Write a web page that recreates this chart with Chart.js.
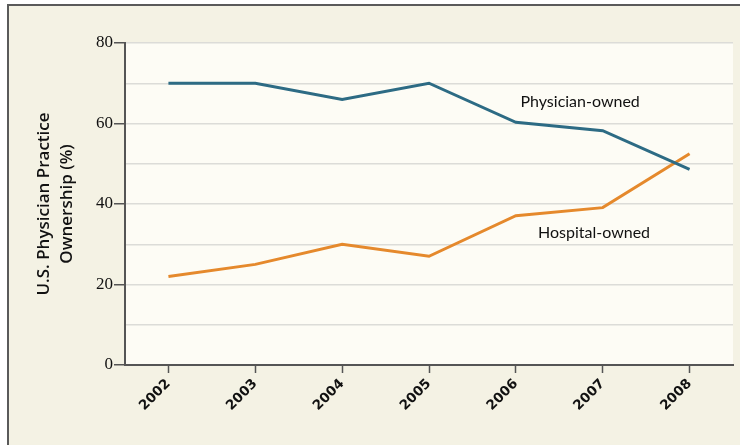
<!DOCTYPE html>
<html>
<head>
<meta charset="utf-8">
<script src="https://cdn.jsdelivr.net/npm/chart.js@4/dist/chart.umd.min.js"></script>
<style>
  html, body { margin: 0; padding: 0; background: #ffffff; }
  #frame {
    position: absolute; left: 7px; top: 4px; width: 760px; height: 460px;
    border-left: 2px solid #5a5a5a; border-top: 2px solid #5a5a5a;
    background: #f4f2e4;
  }
  #wrap { position: absolute; left: 0; top: 0; width: 740px; height: 445px; }
</style>
</head>
<body>
<div id="frame"></div>
<div id="wrap"><canvas id="ownershipChart" width="740" height="445"></canvas></div>
<script>
// Data
const years = ['2002', '2003', '2004', '2005', '2006', '2007', '2008'];
const physicianOwned = [70, 70, 66, 70, 60.3, 58.2, 48.6];
const hospitalOwned = [22, 25, 30, 27, 37.1, 39.1, 52.5];
const yTitle = ['U.S. Physician Practice', 'Ownership (%)'];

// Line labels, placed in data units (category index, percent)
const lineLabels = [
    { text: 'Physician-owned', x: 4.74, y: 65.4 },
    { text: 'Hospital-owned', x: 4.9, y: 32.8 }
];

const tealColor = '#2d6b84';
const orangeColor = '#e5892c';
const axisColor = '#555555';

// Fill the plot area a lighter shade than the frame
const plotBackground = {
    id: 'plotBackground',
    beforeDraw(chart) {
        const { ctx, chartArea } = chart;
        ctx.save();
        ctx.fillStyle = '#fdfcf5';
        ctx.fillRect(chartArea.left, chartArea.top, chartArea.right - chartArea.left, chartArea.bottom - chartArea.top);
        ctx.restore();
    }
};

// Draw the series names next to the lines
const seriesLabels = {
    id: 'seriesLabels',
    afterDatasetsDraw(chart) {
        const { ctx, scales } = chart;
        ctx.save();
        ctx.font = '16px Lato';
        ctx.fillStyle = '#111111';
        ctx.textAlign = 'center';
        ctx.textBaseline = 'middle';
        lineLabels.forEach(l => {
            ctx.fillText(l.text, scales.x.getPixelForValue(l.x), scales.y.getPixelForValue(l.y));
        });
        ctx.restore();
    }
};

new Chart(document.getElementById('ownershipChart'), {
    type: 'line',
    data: {
        labels: years,
        datasets: [{
            label: 'Physician-owned',
            data: physicianOwned,
            borderColor: tealColor,
            borderWidth: 3,
            pointRadius: 0,
            tension: 0
        }, {
            label: 'Hospital-owned',
            data: hospitalOwned,
            borderColor: orangeColor,
            borderWidth: 3,
            pointRadius: 0,
            tension: 0
        }]
    },
    options: {
        responsive: false,
        animation: false,
        layout: { padding: { left: 8, top: 43, right: 7, bottom: 0 } },
        plugins: {
            legend: { display: false },
            tooltip: { enabled: false }
        },
        scales: {
            x: {
                offset: true,
                afterFit(scale) { scale.height = 80; },
                grid: {
                    drawOnChartArea: false,
                    drawTicks: true,
                    tickLength: 8,
                    tickColor: axisColor,
                    tickWidth: 1.5
                },
                border: { color: axisColor, width: 2 },
                ticks: {
                    minRotation: 45,
                    maxRotation: 45,
                    padding: 3,
                    color: '#111111',
                    font: { family: 'DejaVu Sans', size: 13.5, weight: 'bold' }
                }
            },
            y: {
                min: 0,
                max: 80,
                afterFit(scale) { scale.width = 117; },
                grid: {
                    color: '#dcdcd8',
                    lineWidth: 1.5,
                    tickLength: 11,
                    tickColor: ctx => (ctx.tick && ctx.tick.value % 20 === 0 ? axisColor : 'rgba(0,0,0,0)'),
                    tickWidth: 1.5
                },
                border: { color: axisColor, width: 2 },
                ticks: {
                    stepSize: 10,
                    padding: 1,
                    color: '#111111',
                    font: { family: 'Liberation Serif', size: 17 },
                    callback: v => (v % 20 === 0 ? v : '')
                },
                title: {
                    display: true,
                    text: yTitle,
                    color: '#111111',
                    font: { family: 'Open Sans', size: 17, weight: '600', lineHeight: 1.35 },
                    padding: { top: 25, bottom: 0 }
                }
            }
        }
    },
    plugins: [plotBackground, seriesLabels]
});
</script>
</body>
</html>
